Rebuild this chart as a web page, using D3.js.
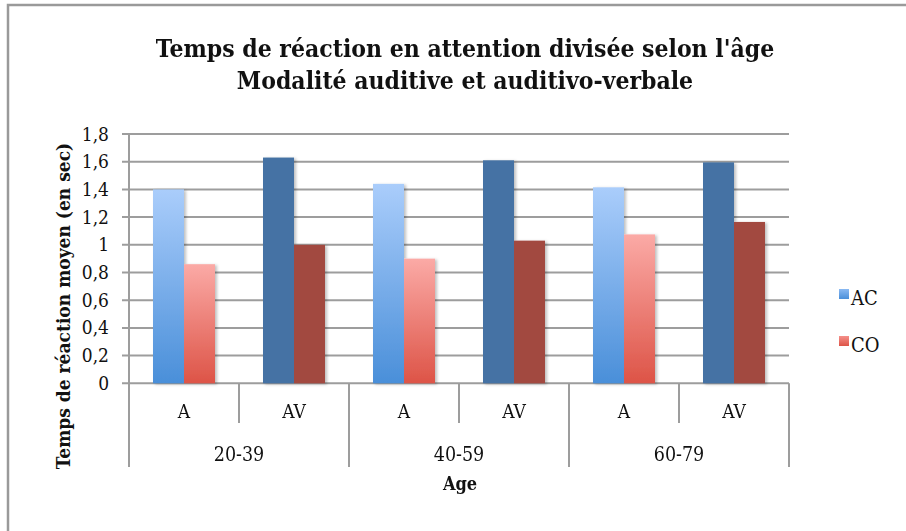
<!DOCTYPE html>
<html>
<head>
<meta charset="utf-8">
<script src="https://cdn.jsdelivr.net/npm/d3@7"></script>
<style>
  body { margin: 0; background: #fff; }
  svg text { font-family: "DejaVu Serif", "Liberation Serif", serif; font-stretch: condensed; fill: #111; }
</style>
</head>
<body>
<div id="chart"></div>
<script>
// data
var ageGroups = ["20-39", "40-59", "60-79"];
var modalities = ["A", "AV"];
var seriesNames = ["AC", "CO"];
var acValues = [1.40, 1.63, 1.44, 1.61, 1.415, 1.595];
var coValues = [0.86, 1.00, 0.90, 1.03, 1.075, 1.165];
var yTicks = [0, 0.2, 0.4, 0.6, 0.8, 1, 1.2, 1.4, 1.6, 1.8];

var W = 906, H = 531;
var plot = { left: 129, right: 789, top: 134, bottom: 383.3 };

var svg = d3.select("#chart").append("svg")
    .attr("width", W)
    .attr("height", H);

// gradients + shadow
var defs = svg.append("defs");
function grad(id, top, bottom) {
  var g = defs.append("linearGradient").attr("id", id)
      .attr("x1", 0).attr("y1", 0).attr("x2", 0).attr("y2", 1);
  g.append("stop").attr("offset", "0%").attr("stop-color", top);
  g.append("stop").attr("offset", "100%").attr("stop-color", bottom);
}
grad("gAC", "#aacdfb", "#4a8fd9");
grad("gCO", "#fbaaa6", "#dd5447");
grad("lAC", "#8ab9f2", "#4a8fd9");
grad("lCO", "#f5908a", "#dd5447");
defs.append("filter").attr("id", "shadow")
    .attr("x", "-20%").attr("y", "-5%").attr("width", "150%").attr("height", "115%")
  .append("feDropShadow")
    .attr("dx", 2).attr("dy", 1).attr("stdDeviation", 1.5)
    .attr("flood-color", "#000").attr("flood-opacity", 0.25);

var fills = {
  AC: { A: "url(#gAC)", AV: "#4572a4" },
  CO: { A: "url(#gCO)", AV: "#a24a41" }
};

// frame (only left/top edge visible)
svg.append("path")
    .attr("d", "M8,531 V5 H906")
    .attr("fill", "none")
    .attr("stroke", "#9a9a9a")
    .attr("stroke-width", 2.5);

// build rows
var rows = [];
ageGroups.forEach(function(g, gi) {
  modalities.forEach(function(m, mi) {
    var i = gi * modalities.length + mi;
    rows.push({ key: g + "|" + m, group: g, mod: m, AC: acValues[i], CO: coValues[i] });
  });
});

var x0 = d3.scaleBand()
    .domain(rows.map(function(d) { return d.key; }))
    .range([plot.left, plot.right]);

var x1 = d3.scaleBand()
    .domain(seriesNames)
    .range([24, x0.bandwidth() - 24]);

var y = d3.scaleLinear()
    .domain([0, 1.8])
    .range([plot.bottom, plot.top]);

// gridlines
svg.append("g")
    .selectAll("line")
    .data(yTicks)
    .enter().append("line")
    .attr("x1", plot.left - 7)
    .attr("x2", plot.right)
    .attr("y1", function(d) { return y(d); })
    .attr("y2", function(d) { return y(d); })
    .attr("stroke", "#9d9d9d")
    .attr("stroke-width", 2);

// y tick labels
svg.append("g")
    .selectAll("text")
    .data(yTicks)
    .enter().append("text")
    .attr("x", 109)
    .attr("y", function(d) { return y(d) + 6.5; })
    .attr("text-anchor", "end")
    .style("font-size", "19px")
    .text(function(d) { return String(d).replace(".", ","); });

// bars
var bars = svg.append("g").attr("filter", "url(#shadow)")
    .selectAll("g")
    .data(rows)
    .enter().append("g")
    .attr("transform", function(d) { return "translate(" + x0(d.key) + ",0)"; });

bars.selectAll("rect")
    .data(function(d) { return seriesNames.map(function(s) { return { s: s, mod: d.mod, v: d[s] }; }); })
    .enter().append("rect")
    .attr("x", function(d) { return x1(d.s); })
    .attr("width", x1.bandwidth())
    .attr("y", function(d) { return y(d.v); })
    .attr("height", function(d) { return y(0) - y(d.v); })
    .attr("fill", function(d) { return fills[d.s][d.mod]; });

// y axis line
svg.append("line")
    .attr("x1", plot.left).attr("x2", plot.left)
    .attr("y1", plot.top).attr("y2", 467)
    .attr("stroke", "#9d9d9d").attr("stroke-width", 2);

// category dividers
var axisG = svg.append("g");
rows.forEach(function(d, i) {
  var xr = x0(d.key) + x0.bandwidth();
  var outer = (i % modalities.length) === modalities.length - 1;
  axisG.append("line")
      .attr("x1", xr).attr("x2", xr)
      .attr("y1", plot.bottom).attr("y2", outer ? 467 : 423)
      .attr("stroke", "#9d9d9d").attr("stroke-width", 2);
});

axisG.selectAll("text.mod")
    .data(rows)
    .enter().append("text")
    .attr("class", "mod")
    .attr("x", function(d) { return x0(d.key) + x0.bandwidth() / 2; })
    .attr("y", 418)
    .attr("text-anchor", "middle")
    .style("font-size", "19px")
    .text(function(d) { return d.mod; });

axisG.selectAll("text.grp")
    .data(ageGroups)
    .enter().append("text")
    .attr("class", "grp")
    .attr("x", function(g) {
      var a = x0(g + "|" + modalities[0]);
      var b = x0(g + "|" + modalities[modalities.length - 1]) + x0.bandwidth();
      return (a + b) / 2;
    })
    .attr("y", 461)
    .attr("text-anchor", "middle")
    .style("font-size", "19.5px")
    .text(function(g) { return g; });

// titles
svg.append("text")
    .attr("x", 465).attr("y", 57)
    .attr("text-anchor", "middle")
    .style("font-size", "24.5px").style("font-weight", "bold")
    .text("Temps de réaction en attention divisée selon l'âge");
svg.append("text")
    .attr("x", 465).attr("y", 88.5)
    .attr("text-anchor", "middle")
    .style("font-size", "24.5px").style("font-weight", "bold")
    .text("Modalité auditive et auditivo-verbale");

svg.append("text")
    .attr("x", 460).attr("y", 490)
    .attr("text-anchor", "middle")
    .style("font-size", "18px").style("font-weight", "bold")
    .text("Age");

svg.append("text")
    .attr("transform", "translate(70,306) rotate(-90)")
    .attr("text-anchor", "middle")
    .style("font-size", "19px").style("font-weight", "bold")
    .text("Temps de réaction moyen (en sec)");

// legend
var legend = svg.append("g")
    .selectAll("g")
    .data(seriesNames)
    .enter().append("g")
    .attr("transform", function(d, i) { return "translate(839," + (289 + i * 47) + ")"; });
legend.append("rect")
    .attr("width", 10).attr("height", 10)
    .attr("fill", function(d) { return "url(#l" + d + ")"; });
legend.append("text")
    .attr("x", 12).attr("y", 15.5)
    .style("font-size", "20px")
    .text(function(d) { return d; });
</script>
</body>
</html>
